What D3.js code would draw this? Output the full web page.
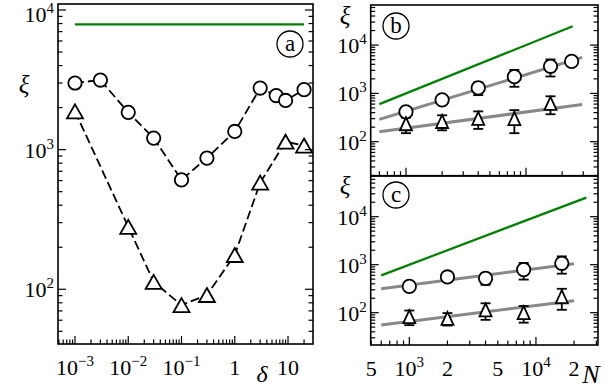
<!DOCTYPE html>
<html>
<head>
<meta charset="utf-8">
<script src="https://cdn.jsdelivr.net/npm/d3@7"></script>
<style>
  body { margin: 0; background: #fff; }
  svg { display: block; }
  text { font-family: 'Liberation Serif', 'DejaVu Serif', serif; fill: #000; }
</style>
</head>
<body>
<svg id="fig" width="605" height="390"></svg>
<script>
/* panel (a): xi against delta */
var deltas = [0.001, 0.003, 0.01, 0.03, 0.1, 0.3, 1, 3, 6, 9, 20]
var xiCircA = [3000, 3150, 1850, 1210, 607, 870, 1350, 2760, 2440, 2250, 2690]
var xiTriA = [1880, null, 280, 113, 77, 91, 176, 580, null, 1140, 1070]
var greenA = [[0.001, 7900], [20, 7900]]
var xTickA = [[1e-3, '10', '−3'], [1e-2, '10', '−2'], [1e-1, '10', '−1'], [1, '1', ''], [10, '10', '']]
var yTickA = [[1e2, '10', '2'], [1e3, '10', '3'], [1e4, '10', '4']]

/* panel (b) */
var nCircB = [1000, 2000, 4000, 8000, 16000, 24000]
var xiCircB = [415, 735, 1300, 2220, 3640, 4600]
var errCircB = [100, 120, 380, 850, 1400, 600]
var nTriB = [1000, 2000, 4000, 8000, 16000]
var xiTriB = [235, 262, 304, 300, 620]
var errTriB = [85, 90, 120, 150, 250]
var fitCircB = [[600, 290], [29400, 5560]]
var fitTriB = [[600, 161], [29400, 592]]
var greenB = [[600, 600], [24500, 24500]]

/* panel (c) */
var nC = [1000, 2000, 4000, 8000, 16000]
var xiCircC = [353, 555, 520, 790, 1070]
var errCircC = [60, 90, 140, 300, 420]
var xiTriC = [83, 76, 114, 100, 215]
var errTriC = [28, 22, 43, 38, 100]
var fitCircC = [[600, 316], [20000, 1050]]
var fitTriC = [[600, 55.5], [20000, 178]]
var greenC = [[600, 600], [25000, 25000]]

var yTickBC = [[1e2, '10', '2'], [1e3, '10', '3'], [1e4, '10', '4']]
var xTickC = [[500, '5', ''], [1e3, '10', '3'], [2e3, '2', ''], [5e3, '5', ''], [1e4, '10', '4'], [2e4, '2', '']]

var svg = d3.select('#fig')
svg.append('rect').attr('width', 605).attr('height', 390).attr('fill', '#fff')

function logTicks(scale) {
    var d = scale.domain()
    var lo = Math.floor(Math.log10(d[0])), hi = Math.ceil(Math.log10(d[1]))
    var rt = []
    for (var e = lo; e <= hi; e++) {
        for (var m = 1; m <= 9; m++) {
            var v = m * Math.pow(10, e)
            if (v >= d[0] && v <= d[1]) rt.push({v: v, major: m == 1})
        }
    }
    return rt
}

function frame(g, x, y) {
    var x0 = x.range()[0], x1 = x.range()[1], y0 = y.range()[1], y1 = y.range()[0]
    var ty = logTicks(y), tx = logTicks(x)
    var tk = g.append('g').attr('stroke', '#000').attr('stroke-width', 1.2)
    ty.forEach(function(t) {
        var L = t.major ? 8 : 4.5
        var yy = y(t.v)
        tk.append('line').attr('x1', x0).attr('x2', x0 + L).attr('y1', yy).attr('y2', yy)
        tk.append('line').attr('x1', x1).attr('x2', x1 - L).attr('y1', yy).attr('y2', yy)
    })
    tx.forEach(function(t) {
        var L = t.major ? 8 : 4.5
        var xx = x(t.v)
        tk.append('line').attr('x1', xx).attr('x2', xx).attr('y1', y1).attr('y2', y1 - L)
    })
    g.append('rect').attr('x', x0).attr('y', y0).attr('width', x1 - x0).attr('height', y1 - y0)
        .attr('fill', 'none').attr('stroke', '#000').attr('stroke-width', 1.6)
}

function supLabel(g, px, py, base, sup, anchor) {
    var t = g.append('text').attr('x', px).attr('y', py).attr('text-anchor', anchor)
        .style('font-size', '22px')
    t.append('tspan').text(base)
    if (sup) t.append('tspan').attr('dy', -9).style('font-size', '15px').text(sup)
    return t
}

function yLabels(g, x, y, ticks) {
    ticks.forEach(function(t) {
        // keep the top label inside the picture
        supLabel(g, x.range()[0] - 4, Math.max(y(t[0]) + 8, 22), t[1], t[2], 'end')
    })
}

function xLabels(g, x, y, ticks) {
    ticks.forEach(function(t) {
        supLabel(g, x(t[0]), y.range()[0] + 31, t[1], t[2], 'middle')
    })
}

function circled(g, cx, cy, s) {
    g.append('circle').attr('cx', cx).attr('cy', cy).attr('r', 13)
        .attr('fill', 'none').attr('stroke', '#000').attr('stroke-width', 1.3)
    g.append('text').attr('x', cx).attr('y', cy + 7).attr('text-anchor', 'middle')
        .style('font-size', '23px').text(s)
}

function xiLabel(g, px, py) {
    g.append('text').attr('x', px).attr('y', py).attr('text-anchor', 'middle')
        .style('font-size', '25px').style('font-style', 'italic').text('ξ')
}

function triPath(w, h) {
    return 'M0,' + (-h / 2) + 'L' + (w / 2) + ',' + (h / 2) + 'L' + (-w / 2) + ',' + (h / 2) + 'Z'
}

function straight(g, x, y, pts, color, width) {
    var line = d3.line().x(function(d) { return x(d[0]) }).y(function(d) { return y(d[1]) })
    g.append('path').attr('d', line(pts)).attr('fill', 'none')
        .attr('stroke', color).attr('stroke-width', width)
}

function errorbars(g, x, y, ns, vals, errs) {
    ns.forEach(function(n, i) {
        var xx = x(n), a = y(vals[i] - errs[i]), b = y(vals[i] + errs[i])
        var eb = g.append('g').attr('stroke', '#000').attr('stroke-width', 1.8)
        eb.append('line').attr('x1', xx).attr('x2', xx).attr('y1', a).attr('y2', b)
        eb.append('line').attr('x1', xx - 5).attr('x2', xx + 5).attr('y1', a).attr('y2', a)
        eb.append('line').attr('x1', xx - 5).attr('x2', xx + 5).attr('y1', b).attr('y2', b)
    })
}

function circles(g, x, y, ns, vals, r) {
    ns.forEach(function(n, i) {
        if (vals[i] == null) return
        g.append('circle').attr('cx', x(n)).attr('cy', y(vals[i])).attr('r', r)
            .attr('fill', '#fff').attr('stroke', '#000').attr('stroke-width', 1.8)
    })
}

function triangles(g, x, y, ns, vals, w, h) {
    ns.forEach(function(n, i) {
        if (vals[i] == null) return
        g.append('path').attr('d', triPath(w, h))
            .attr('transform', 'translate(' + x(n) + ',' + y(vals[i]) + ')')
            .attr('fill', '#fff').attr('stroke', '#000').attr('stroke-width', 1.8)
    })
}

/* ---- panel a ---- */
var xa = d3.scaleLog().domain([Math.pow(10, -3.319), Math.pow(10, 1.469)]).range([58, 313])
var ya = d3.scaleLog().domain([Math.pow(10, 1.608), Math.pow(10, 4.043)]).range([344, 4])
var ga = svg.append('g')

var dashed = d3.line().defined(function(d) { return d[1] != null })
    .x(function(d) { return xa(d[0]) }).y(function(d) { return ya(d[1]) })
var circPts = deltas.map(function(d, i) { return [d, xiCircA[i]] })
var triPts = deltas.map(function(d, i) { return [d, xiTriA[i]] }).filter(function(d) { return d[1] != null })
ga.append('path').attr('d', dashed(circPts)).attr('fill', 'none').attr('stroke', '#000')
    .attr('stroke-width', 1.8).attr('stroke-dasharray', '9,4')
ga.append('path').attr('d', dashed(triPts)).attr('fill', 'none').attr('stroke', '#000')
    .attr('stroke-width', 1.8).attr('stroke-dasharray', '9,4')
straight(ga, xa, ya, greenA, '#008000', 2.2)
circles(ga, xa, ya, deltas, xiCircA, 6.7)
triangles(ga, xa, ya, deltas, xiTriA, 16, 14)
frame(ga, xa, ya)
yLabels(ga, xa, ya, yTickA)
xLabels(ga, xa, ya, xTickA)
circled(ga, 290, 44, 'a')
xiLabel(ga, 24, 93)
ga.append('text').attr('x', 262).attr('y', 382).attr('text-anchor', 'middle')
    .style('font-size', '24px').style('font-style', 'italic').text('δ')

/* ---- panel b ---- */
var xb = d3.scaleLog().domain([Math.pow(10, 2.706), Math.pow(10, 4.6)]).range([370.7, 598])
var yb = d3.scaleLog().domain([Math.pow(10, 1.296), Math.pow(10, 4.83)]).range([175.7, 5])
var gb = svg.append('g')
straight(gb, xb, yb, fitCircB, '#888', 3)
straight(gb, xb, yb, fitTriB, '#888', 3)
straight(gb, xb, yb, greenB, '#008000', 2.2)
errorbars(gb, xb, yb, nCircB, xiCircB, errCircB)
errorbars(gb, xb, yb, nTriB, xiTriB, errTriB)
circles(gb, xb, yb, nCircB, xiCircB, 6.7)
triangles(gb, xb, yb, nTriB, xiTriB, 12, 13)
frame(gb, xb, yb)
yLabels(gb, xb, yb, yTickBC)
circled(gb, 396, 26, 'b')
xiLabel(gb, 345, 24)

/* ---- panel c ---- */
var xc = d3.scaleLog().domain([Math.pow(10, 2.695), Math.pow(10, 4.49)]).range([370.7, 598])
var yc = d3.scaleLog().domain([Math.pow(10, 1.327), Math.pow(10, 4.848)]).range([345, 176])
var gc = svg.append('g')
straight(gc, xc, yc, fitCircC, '#888', 3)
straight(gc, xc, yc, fitTriC, '#888', 3)
straight(gc, xc, yc, greenC, '#008000', 2.2)
errorbars(gc, xc, yc, nC, xiCircC, errCircC)
errorbars(gc, xc, yc, nC, xiTriC, errTriC)
circles(gc, xc, yc, nC, xiCircC, 6.7)
triangles(gc, xc, yc, nC, xiTriC, 12, 13)
frame(gc, xc, yc)
yLabels(gc, xc, yc, yTickBC)
xLabels(gc, xc, yc, xTickC)
circled(gc, 396, 195, 'c')
xiLabel(gc, 345, 194)
gc.append('text').attr('x', 591).attr('y', 383).attr('text-anchor', 'middle')
    .style('font-size', '26px').style('font-style', 'italic').text('N')
</script>
</body>
</html>
